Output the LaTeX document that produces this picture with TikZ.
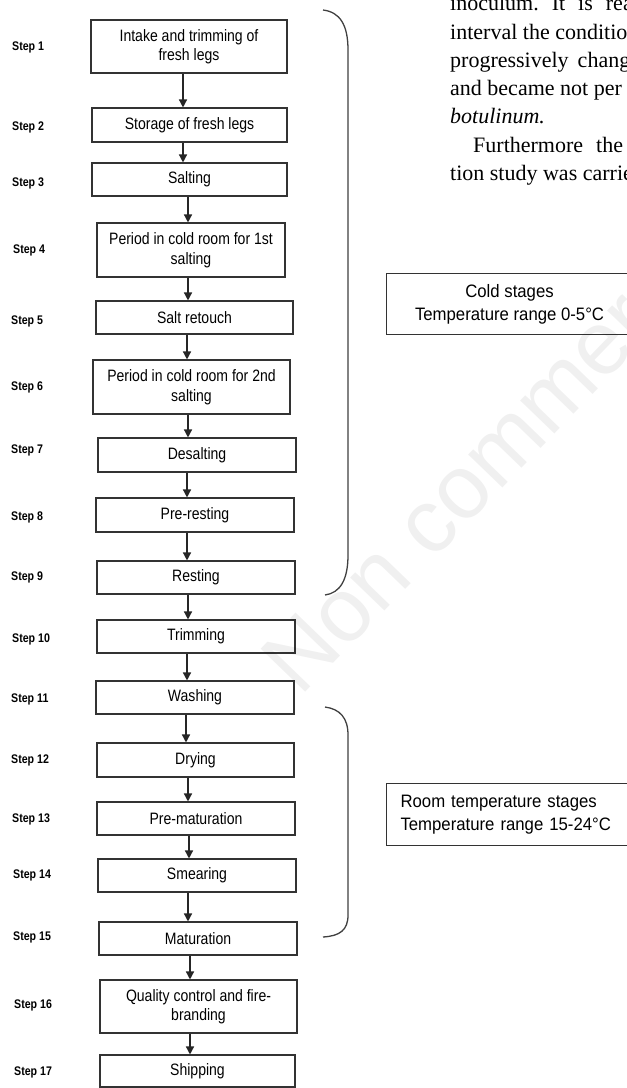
\documentclass[tikz,border=0pt]{standalone}
\usepackage{fontspec}
\setmainfont{Liberation Serif}
\newfontfamily\flowfont[FakeStretch=0.85]{Liberation Sans}
\newfontfamily\annfont[FakeStretch=0.93]{Liberation Sans}
\newfontfamily\wmfont{Liberation Sans}
\usetikzlibrary{arrows.meta}
\begin{document}
\begin{tikzpicture}[x=1pt,y=-1pt,
  box/.style={draw=black!80, line width=1.1pt, fill=white, inner sep=0pt, align=center,
    font=\flowfont\fontsize{16.5}{19.5}\selectfont},
  steplbl/.style={anchor=west, inner sep=0pt, font=\flowfont\bfseries\fontsize{12.5}{14}\selectfont},
  arr/.style={draw=black!85, line width=1.4pt, -{Triangle[length=8pt,width=8pt]}},
  brk/.style={draw=black!75, line width=1.3pt},
  ann/.style={draw=black!80, line width=1.1pt, inner sep=0pt, font=\annfont\fontsize{18}{23}\selectfont},
  article/.style={anchor=base west, inner sep=0pt, font=\fontsize{22}{26}\selectfont}]
\useasboundingbox (0,0) rectangle (627,1088);
\clip (0,0) rectangle (627,1088);
\fill[white] (0,0) rectangle (627,1088);

% article text
\node[article] (t1) at (450,10.7) {inoculum.\hspace{13pt}It\hspace{13pt}is\hspace{13pt}rea};
\node[article] (t2) at (450,39) {interval the conditio};
\node[article] (t3) at (450,67.3) {progressively\hspace{9pt}chang};
\node[article] (t4) at (450,95.6) {and became not per};
\node[article] (t5) at (450,123.9) {\itshape botulinum.};
\node[article] (t6) at (473,152.2) {Furthermore\hspace{13pt}the};
\node[article] (t7) at (450,180.5) {tion study was carrie};

% process boxes
\node[box, minimum width=196pt, minimum height=53pt] (s1) at (189,46.5) {Intake and trimming of\\fresh legs};
\node[box, minimum width=195pt, minimum height=34pt] (s2) at (189.5,125) {Storage of fresh legs};
\node[box, minimum width=195pt, minimum height=33pt] (s3) at (189.5,179.5) {Salting};
\node[box, minimum width=188pt, minimum height=54pt] (s4) at (191,250) {Period in cold room for 1st\\salting};
\node[box, minimum width=197pt, minimum height=33pt] (s5) at (194.5,317.5) {Salt retouch};
\node[box, minimum width=197pt, minimum height=54pt] (s6) at (191.5,387) {Period in cold room for 2nd\\salting};
\node[box, minimum width=198pt, minimum height=34pt] (s7) at (197,455) {Desalting};
\node[box, minimum width=198pt, minimum height=34pt] (s8) at (195,515) {Pre-resting};
\node[box, minimum width=198pt, minimum height=33pt] (s9) at (196,577.5) {Resting};
\node[box, minimum width=198pt, minimum height=33pt] (s10) at (196,636.5) {Trimming};
\node[box, minimum width=198pt, minimum height=33pt] (s11) at (195,697.5) {Washing};
\node[box, minimum width=197pt, minimum height=34pt] (s12) at (195.5,760) {Drying};
\node[box, minimum width=198pt, minimum height=33pt] (s13) at (196,818.5) {Pre-maturation};
\node[box, minimum width=198pt, minimum height=33pt] (s14) at (197,875.5) {Smearing};
\node[box, minimum width=198pt, minimum height=33pt] (s15) at (198,938.5) {Maturation};
\node[box, minimum width=197pt, minimum height=53pt] (s16) at (198.5,1006.5) {Quality control and fire-\\branding};
\node[box, minimum width=195pt, minimum height=32pt] (s17) at (197.5,1071) {Shipping};

% step labels
\node[steplbl] (l1) at (12,47) {Step 1};
\node[steplbl] (l2) at (12,127) {Step 2};
\node[steplbl] (l3) at (12,183) {Step 3};
\node[steplbl] (l4) at (13,250) {Step 4};
\node[steplbl] (l5) at (11,321) {Step 5};
\node[steplbl] (l6) at (11,387) {Step 6};
\node[steplbl] (l7) at (11,450) {Step 7};
\node[steplbl] (l8) at (11,517) {Step 8};
\node[steplbl] (l9) at (11,577) {Step 9};
\node[steplbl] (l10) at (12,639) {Step 10};
\node[steplbl] (l11) at (11,699) {Step 11};
\node[steplbl] (l12) at (11,760) {Step 12};
\node[steplbl] (l13) at (12,819) {Step 13};
\node[steplbl] (l14) at (13,875) {Step 14};
\node[steplbl] (l15) at (13,937) {Step 15};
\node[steplbl] (l16) at (14,1005) {Step 16};
\node[steplbl] (l17) at (14,1072) {Step 17};

% arrows
\foreach \a/\b/\x in {s1/s2/183, s2/s3/183, s3/s4/188, s4/s5/188, s5/s6/187, s6/s7/188,
  s7/s8/187, s8/s9/187, s9/s10/188, s10/s11/187, s11/s12/186, s12/s13/188,
  s13/s14/189, s14/s15/188, s15/s16/190, s16/s17/190}{
  \coordinate (ax) at (\x,0);
  \draw[arr] (\a.south -| ax) -- (\b.north -| ax);
}

% brackets
\draw[brk] (323,10) .. controls (340,12) and (348,25) .. (348,50) -- (348,555)
  .. controls (348,580) and (340,593) .. (325,595);
\draw[brk] (325,707) .. controls (340,709) and (348,718) .. (348,735) -- (348,915)
  .. controls (348,930) and (340,936) .. (323,937);

% annotation boxes
\node[ann, anchor=north west, minimum width=246pt, minimum height=61pt, align=center] (cold) at (386,273)
  {Cold stages\\Temperature range 0-5°C};
\node[ann, anchor=north west, minimum width=246pt, minimum height=62pt, align=left,
  text width=232pt, inner xsep=14pt] (room) at (386,783)
  {Room temperature stages\\Temperature range 15-24°C};

% watermark (faint overlay)
\node[anchor=base west, rotate=46, text=black, opacity=0.06, inner sep=0pt,
  font=\wmfont\fontsize{90}{92}\selectfont] (wm) at (300,698) {Non commercial use only};
\end{tikzpicture}
\end{document}
